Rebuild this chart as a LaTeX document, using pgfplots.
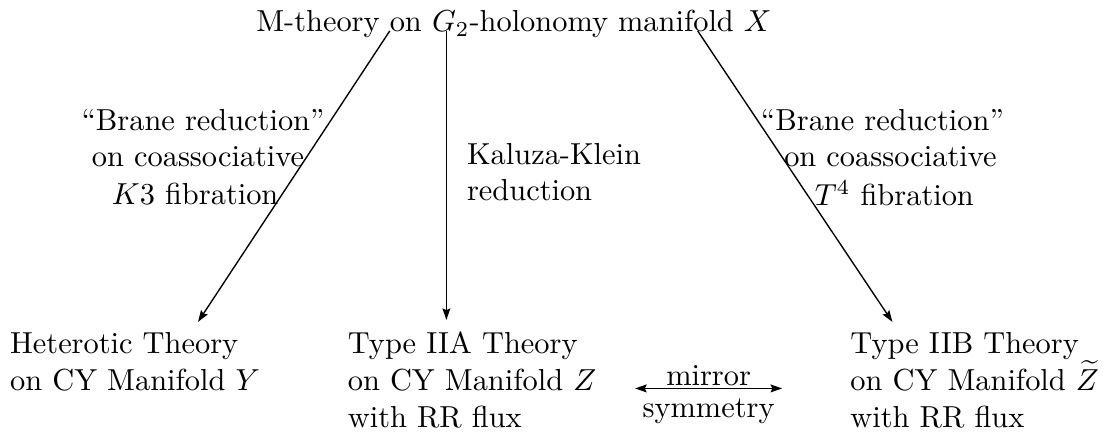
\documentclass[border=0pt]{standalone}
\usepackage{pgfplots}
\pgfplotsset{compat=1.18}
\usetikzlibrary{arrows.meta}
\begin{document}
\begin{tikzpicture}
\begin{axis}[
  width=362.4pt, height=148.0pt, scale only axis,
  xmin=0, xmax=1109, ymin=0, ymax=453, y dir=reverse,
  axis lines=none, ticks=none, clip=false,
  every node/.style={inner sep=0pt, anchor=base, font=\fontsize{10}{12}\selectfont},
]
\pgfplotsset{arr/.style={black, line width=0.45pt, -{Stealth[length=3.8pt,width=2.6pt,inset=0.6pt]}}}
\addplot[arr] coordinates {(400,33) (207,326)};
\addplot[arr] coordinates {(457,33) (457,324)};
\addplot[arr] coordinates {(710,33) (906,326)};
\addplot[black, line width=0.45pt, {Stealth[length=3.8pt,width=2.6pt,inset=0.6pt]}-{Stealth[length=3.8pt,width=2.6pt,inset=0.6pt]}] coordinates {(647,393) (795,393)};

\node at (axis cs:525,26) {M-theory on $G_2$-holonomy manifold $X$};

\node at (axis cs:212,123) {``Brane reduction''};
\node at (axis cs:207,160) {on coassociative};
\node at (axis cs:204,197) {$K3$ fibration};

\node[anchor=base west] at (axis cs:467,168) {Kaluza-Klein};
\node[anchor=base west] at (axis cs:467,204) {reduction};

\node at (axis cs:896,123) {``Brane reduction''};
\node at (axis cs:904,160) {on coassociative};
\node at (axis cs:908,197) {$T^4$ fibration};

\node[anchor=base west] at (axis cs:7,358) {Heterotic Theory};
\node[anchor=base west] at (axis cs:7,395) {on CY Manifold $Y$};

\node[anchor=base west] at (axis cs:347,358) {Type IIA Theory};
\node[anchor=base west] at (axis cs:347,395) {on CY Manifold $Z$};
\node[anchor=base west] at (axis cs:347,432) {with RR flux};

\node at (axis cs:721,380) {mirror};
\node at (axis cs:721,416) {symmetry};

\node[anchor=base west] at (axis cs:853,358) {Type IIB Theory};
\node[anchor=base west] at (axis cs:853,395) {on CY Manifold $\widetilde{Z}$};
\node[anchor=base west] at (axis cs:853,432) {with RR flux};
\end{axis}
\end{tikzpicture}
\end{document}
